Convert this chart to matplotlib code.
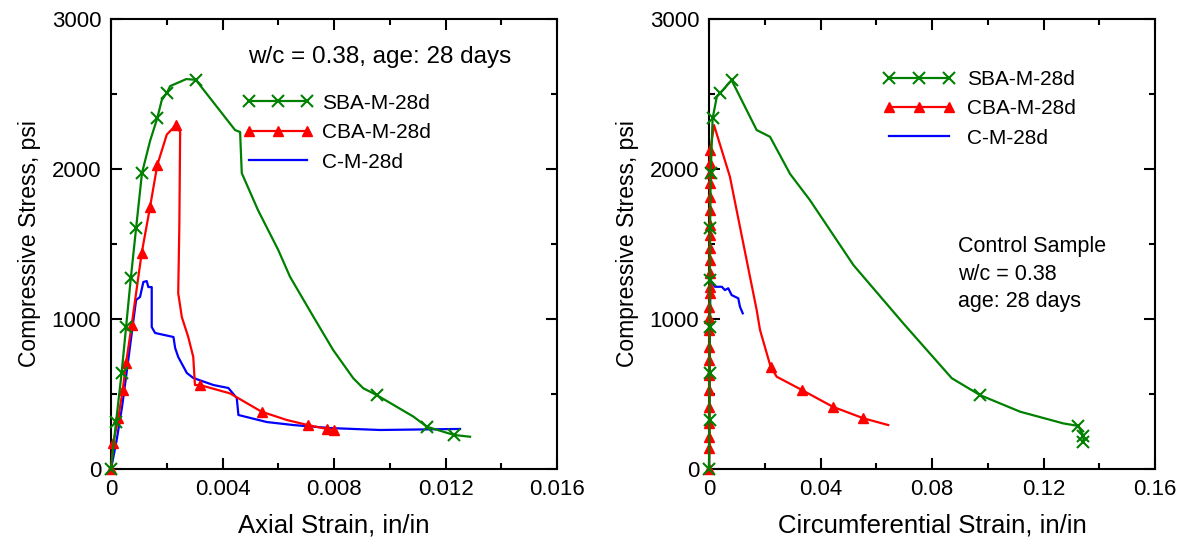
import matplotlib
matplotlib.use("Agg")
import matplotlib.pyplot as plt
from matplotlib.ticker import MultipleLocator

plt.rcParams["font.family"] = ["Liberation Sans", "DejaVu Sans"]
plt.rcParams["font.size"] = 16

# --- axial strain (left panel) ---
sba_ax_x = [0, 0.00018, 0.00038, 0.00054, 0.00071, 0.0009, 0.00111, 0.0014, 0.00166, 0.00182,
            0.0020, 0.00212, 0.0027, 0.00304, 0.00445, 0.00463, 0.00469, 0.00527, 0.0060,
            0.00642, 0.00726, 0.00797, 0.00869, 0.00905, 0.00953, 0.01085, 0.01133, 0.0123, 0.01288]
sba_ax_y = [0, 313, 640, 947, 1273, 1607, 1973, 2187, 2340, 2460,
            2507, 2553, 2600, 2595, 2260, 2247, 1973, 1727, 1460,
            1282, 1015, 793, 605, 538, 493, 349, 282, 227, 215]
sba_ax_marks = [0, 1, 2, 3, 4, 5, 6, 8, 10, 13, 24, 26, 27]

cba_ax_x = [0, 0.00008, 0.00026, 0.00042, 0.00054, 0.00074, 0.0011, 0.0014, 0.00166, 0.0020,
            0.00233, 0.00248, 0.00245, 0.00241, 0.00254, 0.00277, 0.00295, 0.00301, 0.00319,
            0.00427, 0.0054, 0.0063, 0.00706, 0.00774, 0.0080]
cba_ax_y = [0, 173, 340, 527, 707, 960, 1440, 1747, 2027, 2230,
            2293, 2247, 1613, 1173, 1013, 880, 747, 560, 560,
            504, 382, 327, 293, 267, 260]
cba_ax_marks = [0, 1, 2, 3, 4, 5, 6, 7, 8, 10, 18, 20, 22, 23, 24]

c_ax_x = [0, 0.0002, 0.0004, 0.0006, 0.00079, 0.0009, 0.00104, 0.00116, 0.00128, 0.00134,
          0.00146, 0.00146, 0.00158, 0.00224, 0.0023, 0.00241, 0.00272, 0.00295, 0.00367,
          0.00421, 0.00451, 0.00457, 0.00559, 0.00654, 0.00786, 0.00965, 0.01252]
c_ax_y = [0, 190, 420, 700, 973, 1127, 1147, 1247, 1253, 1213,
          1213, 947, 907, 880, 807, 747, 640, 607, 560,
          540, 473, 360, 313, 293, 273, 260, 267]

# --- circumferential strain (right panel) ---
sba_ci_x = [0, 0.0002, 0.0002, 0.0003, 0.0003, 0.0004, 0.0006, 0.0013, 0.0028, 0.0039,
            0.0081, 0.0171, 0.0219, 0.0291, 0.0362, 0.0518, 0.0697, 0.0871, 0.0972,
            0.1116, 0.1271, 0.1325, 0.1343, 0.1343]
sba_ci_y = [0, 327, 638, 949, 1260, 1604, 1971, 2338, 2482, 2504,
            2593, 2260, 2215, 1967, 1793, 1360, 971, 605, 493,
            382, 304, 287, 220, 182]
sba_ci_marks = [0, 1, 2, 3, 4, 5, 6, 7, 9, 10, 18, 21, 22, 23]

cba_ci_x = [0, 0.0001, 0.0001, 0.0001, 0.0001, 0.0001, 0.0001, 0.0001, 0.0001, 0.0001,
            0.0001, 0.0001, 0.0002, 0.0002, 0.0002, 0.0002, 0.0002, 0.0002, 0.0002, 0.0003,
            0.0003, 0.0003, 0.0003, 0.0004, 0.0005, 0.0018, 0.0075, 0.0123, 0.0171, 0.0183,
            0.0221, 0.0243, 0.0333, 0.0444, 0.0554, 0.0643]
cba_ci_y = [0, 140, 213, 307, 413, 527, 627, 727, 813, 927,
            1007, 1080, 1173, 1213, 1307, 1393, 1473, 1560, 1627, 1727,
            1813, 1907, 1973, 2040, 2127, 2293, 1949, 1504, 1060, 927,
            682, 615, 527, 415, 338, 293]
cba_ci_marks = list(range(25)) + [30, 32, 33, 34]

c_ci_x = [0, 0.0002, 0.0005, 0.00215, 0.0046, 0.0057, 0.0069, 0.0081, 0.0093, 0.0105, 0.0111, 0.0121]
c_ci_y = [0, 600, 1260, 1215, 1215, 1193, 1205, 1160, 1149, 1138, 1082, 1038]

labels = ["SBA-M-28d", "CBA-M-28d", "C-M-28d"]
GREEN, RED, BLUE = "#008000", "#ff0000", "#0000ff"


def style_axes(ax, xmax, xmajor):
    ax.set_xlim(0, xmax)
    ax.set_ylim(0, 3000)
    ax.xaxis.set_major_locator(MultipleLocator(xmajor))
    ax.xaxis.set_minor_locator(MultipleLocator(xmajor / 2))
    ax.yaxis.set_major_locator(MultipleLocator(1000))
    ax.yaxis.set_minor_locator(MultipleLocator(500))
    ax.tick_params(which="both", direction="in", top=True, right=True, width=1.5)
    ax.tick_params(which="major", length=8, pad=7)
    ax.tick_params(which="minor", length=4.5)
    for s in ax.spines.values():
        s.set_linewidth(1.5)
    ax.xaxis.set_major_formatter(plt.FuncFormatter(lambda v, p: "0" if v == 0 else f"{v:g}"))
    ax.set_ylabel("Compressive Stress, psi", fontsize=16.5, labelpad=8)


def draw(ax, sba, cba, c):
    ax.plot(sba[0], sba[1], color=GREEN, lw=1.6, marker="x", ms=8, mew=1.5,
            markevery=sba[2], label=labels[0], clip_on=False, zorder=4)
    ax.plot(cba[0], cba[1], color=RED, lw=1.6, marker="^", ms=7,
            markevery=cba[2], label=labels[1], clip_on=False, zorder=3)
    ax.plot(c[0], c[1], color=BLUE, lw=1.6, label=labels[2], zorder=2)


fig = plt.figure(figsize=(11.9, 5.5), dpi=100)
ax1 = fig.add_axes([0.0933, 0.1473, 0.3748, 0.818])
ax2 = fig.add_axes([0.5958, 0.1473, 0.3748, 0.818])

draw(ax1, (sba_ax_x, sba_ax_y, sba_ax_marks), (cba_ax_x, cba_ax_y, cba_ax_marks), (c_ax_x, c_ax_y))
draw(ax2, (sba_ci_x, sba_ci_y, sba_ci_marks), (cba_ci_x, cba_ci_y, cba_ci_marks), (c_ci_x, c_ci_y))

style_axes(ax1, 0.016, 0.004)
style_axes(ax2, 0.16, 0.04)
ax1.set_xlabel("Axial Strain, in/in", fontsize=18.5, labelpad=10)
ax2.set_xlabel("Circumferential Strain, in/in", fontsize=18.5, labelpad=10)

ax1.legend(loc="upper left", bbox_to_anchor=(0.296, 0.834), frameon=False, numpoints=3,
           fontsize=15, handlelength=3.37, handletextpad=0.43, borderpad=0,
           borderaxespad=0, labelspacing=0.5)
ax2.legend(loc="upper left", bbox_to_anchor=(0.39, 0.887), frameon=False, numpoints=3,
           fontsize=15, handlelength=3.46, handletextpad=0.58, borderpad=0,
           borderaxespad=0, labelspacing=0.5)

ax1.text(0.307, 0.916, "w/c = 0.38, age: 28 days", transform=ax1.transAxes,
         va="center", fontsize=17.5)
ax2.text(0.558, 0.518, "Control Sample\nw/c = 0.38\nage: 28 days", transform=ax2.transAxes,
         va="top", fontsize=15.5, linespacing=1.42)

fig.savefig("out.png", dpi=100)
